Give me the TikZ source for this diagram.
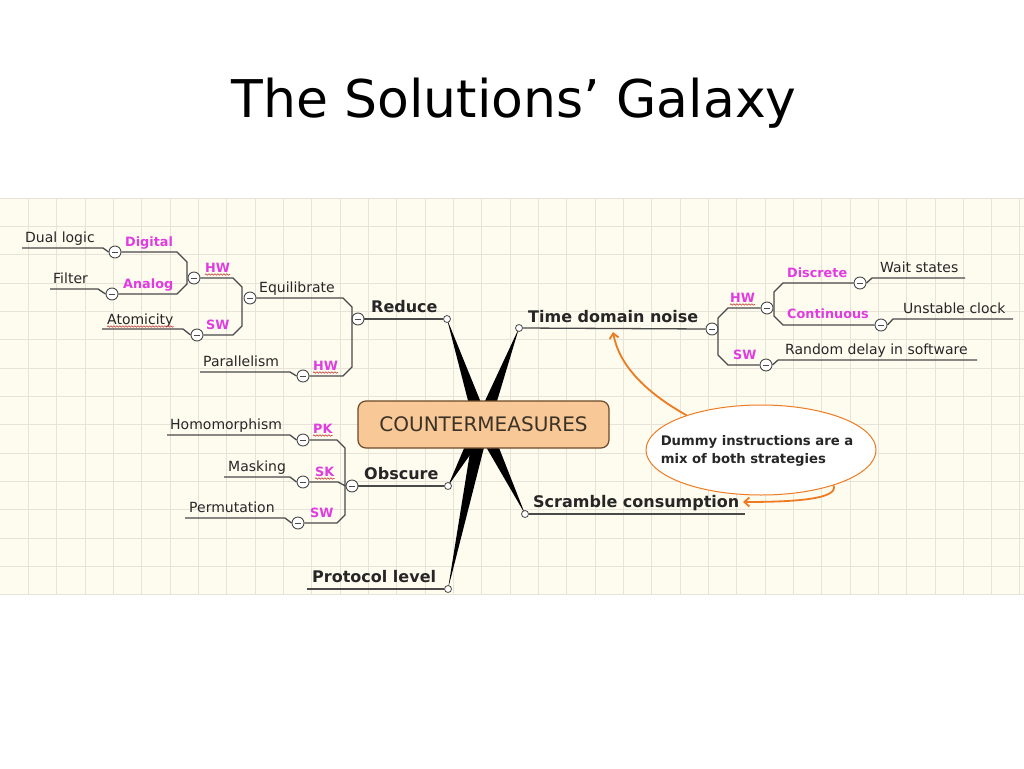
\documentclass[tikz,border=0pt]{standalone}
\usepackage{fontspec}
\setmainfont{DejaVu Sans}
\usetikzlibrary{calc,shapes.geometric,arrows.meta,decorations.pathmorphing}
\definecolor{linec}{HTML}{4A4A4A}
\definecolor{magc}{HTML}{E03CE0}
\definecolor{txtc}{HTML}{262626}
\definecolor{orc}{HTML}{EE7B22}
\definecolor{wavc}{HTML}{C8504A}
\definecolor{gridc}{HTML}{E8E3D8}
\definecolor{paper}{HTML}{FEFBEF}
\definecolor{boxfill}{HTML}{F8C896}
\definecolor{boxdraw}{HTML}{6B4A2A}
\definecolor{boxtxt}{HTML}{3B3328}
\tikzset{
  lbl/.style={inner sep=0, anchor=base west, text=txtc, font=\fontsize{14}{16}\selectfont},
  big/.style={lbl, font=\fontsize{16}{18}\selectfont\bfseries},
  mag/.style={lbl, text=magc, font=\fontsize{12.8}{15}\selectfont\bfseries},
  btn/.style={circle, draw=linec, fill=white, inner sep=0, minimum size=12pt, line width=0.9pt,
    path picture={\draw[line width=0.9pt,linec] ([xshift=-3.2pt]path picture bounding box.center) -- ([xshift=3.2pt]path picture bounding box.center);}},
  tipc/.style={circle, draw=linec, fill=white, inner sep=0, minimum size=7pt, line width=0.8pt},
  conn/.style={draw=linec, line width=1.3pt, line join=round},
  wavy/.style={draw=wavc, line width=0.7pt, decorate, decoration={snake, segment length=3pt, amplitude=0.7pt}},
  spike/.style={fill=black},
  callarrow/.style={draw=orc, line width=1.8pt, -{Straight Barb[length=5pt,width=9pt]}},
  gridline/.style={draw=gridc, line width=0.8pt}
}
\begin{document}
\begin{tikzpicture}[x=1pt,y=-1pt]
\useasboundingbox (0,0) rectangle (1024,768);
\fill[white] (0,0) rectangle (1024,768);
% paper
\fill[paper] (0,198) rectangle (1024,595);
\foreach \i in {1,...,36} \draw[gridline] (\i*28.33,198) -- (\i*28.33,595);
\foreach \j in {0,...,14} \draw[gridline] (0,198+\j*28.33) -- (1024,198+\j*28.33);
% title
\node[font=\fontsize{52}{60}\selectfont, text=black, anchor=base, inner sep=0] (title) at (514,117) {The Solutions’ Galaxy};
% spike ends
\coordinate (C) at (482,425);
\coordinate (cR) at (447,319);
\coordinate (cT) at (519,328);
\coordinate (cO) at (448,486);
\coordinate (cP) at (448,589);
\coordinate (cS) at (525,514);
\foreach \t in {cR,cT,cO,cP,cS}
  \fill[spike] ($(C)!7.5pt!90:(\t)$) -- (\t) -- ($(C)!7.5pt!-90:(\t)$) -- cycle;
% central box
\node[draw=boxdraw, fill=boxfill, rounded corners=8pt, line width=1.2pt, minimum width=251pt, minimum height=47pt, text=boxtxt, font=\fontsize{20}{24}\selectfont] (cm) at (483.5,424.5) {COUNTERMEASURES};
% tips
\node[tipc] (RT) at (cR) {};
\node[tipc] (TT) at (cT) {};
\node[tipc] (OT) at (cO) {};
\node[tipc] (PT) at (cP) {};
\node[tipc] (SC) at (cS) {};
% buttons
\node[btn] (R0) at (358,319) {};
\node[btn] (E0) at (250,298) {};
\node[btn] (H1) at (194,278) {};
\node[btn] (D0) at (115,252) {};
\node[btn] (A0) at (112,294) {};
\node[btn] (S1) at (197,335) {};
\node[btn] (H2) at (303,376) {};
\node[btn] (T0) at (712,329) {};
\node[btn] (H3) at (767,308) {};
\node[btn] (DC) at (860,283) {};
\node[btn] (CN) at (881,325) {};
\node[btn] (S3) at (766,365) {};
\node[btn] (O0) at (352,486) {};
\node[btn] (P0) at (303,440) {};
\node[btn] (K0) at (303,482) {};
\node[btn] (W0) at (298,523) {};
% connectors left
\draw[conn] (R0.east) -- (RT.west);
\draw[conn] (E0.east) -- (343,298) -- (352,307) -- (352,367) -- (343,376) -- (H2.east);
\draw[conn] (H1.east) -- (233,278) -- (242,287) -- (242,326) -- (233,335) -- (S1.east);
\draw[conn] (D0.east) -- (177,252) -- (187,262) -- (187,284) -- (177,294) -- (A0.east);
\draw[conn] (22,248) -- (103,248) -- (D0.west);
\draw[conn] (50,289) -- (98,289) -- (A0.west);
\draw[conn] (102,329) -- (183,329) -- (S1.west);
\draw[conn] (200,372) -- (290,372) -- (H2.west);
% connectors right
\draw[conn] (TT.east) -- (T0.west);
\draw[conn] (H3.west) -- (728,308) -- (718,318) -- (718,355) -- (728,365) -- (S3.west);
\draw[conn] (DC.west) -- (783,283) -- (774,292) -- (774,316) -- (783,325) -- (CN.west);
\draw[conn] (DC.east) -- (872,278) -- (965,278);
\draw[conn] (CN.east) -- (893,319) -- (1013,319);
\draw[conn] (S3.east) -- (778,360) -- (977,360);
% connectors lower
\draw[conn] (O0.east) -- (OT.west);
\draw[conn] (P0.east) -- (337,440) -- (345,448) -- (345,515) -- (337,523) -- (W0.east);
\draw[conn] (K0.east) -- (338,482) -- (O0.west);
\draw[conn] (167,435) -- (290,435) -- (P0.west);
\draw[conn] (224,477) -- (290,477) -- (K0.west);
\draw[conn] (185,518) -- (285,518) -- (W0.west);
\draw[conn] (307,589) -- (PT.west);
\draw[conn] (SC.east) -- (745,514);
% texts left
\node[big] (tR) at (371,312) {Reduce};
\node[lbl] (tE) at (259,292) {Equilibrate};
\node[mag] (tH1) at (205,272) {HW};
\node[mag] (tD) at (125,246) {Digital};
\node[lbl] (tDL) at (25,242) {Dual logic};
\node[mag] (tA) at (123,288) {Analog};
\node[lbl] (tF) at (53,283) {Filter};
\node[mag] (tS1) at (206,329) {SW};
\node[lbl] (tAt) at (107,324) {Atomicity};
\node[mag] (tH2) at (313,370) {HW};
\node[lbl] (tP) at (203,366) {Parallelism};
% texts right
\node[big] (tT) at (528,322) {Time domain noise};
\node[mag] (tH3) at (730,302) {HW};
\node[mag] (tDC) at (787,277) {Discrete};
\node[lbl] (tW) at (880,272) {Wait states};
\node[mag] (tCN) at (787,318) {Continuous};
\node[lbl] (tU) at (903,313) {Unstable clock};
\node[mag] (tS3) at (733,359) {SW};
\node[lbl] (tRD) at (785,354) {Random delay in software};
% texts lower
\node[big] (tO) at (364,479) {Obscure};
\node[mag] (tPK) at (313,433) {PK};
\node[lbl] (tHo) at (170,429) {Homomorphism};
\node[mag] (tSK) at (315,476) {SK};
\node[lbl] (tM) at (228,471) {Masking};
\node[mag] (tS4) at (310,517) {SW};
\node[lbl] (tPe) at (189,512) {Permutation};
\node[big] (tPL) at (312,582) {Protocol level};
\node[big] (tSC) at (533,507) {Scramble consumption};
% wavy underlines
\foreach \n in {tH1,tAt,tH2,tH3,tPK,tSK}
  \draw[wavy] ([yshift=-2.5pt]\n.base west) -- ([yshift=-2.5pt]\n.base east);
% callout
\node[ellipse, draw=orc, fill=white, line width=1pt, minimum width=230pt, minimum height=90pt, inner sep=0] (dm) at (761,450) {};
\node[inner sep=0, align=left, text=txtc, font=\fontsize{13.2}{18}\selectfont\bfseries] (dmt) at (757,451) {Dummy instructions are a\\mix of both strategies};
\coordinate (a1) at (613,332);
\coordinate (a2) at (743,502);
\draw[callarrow] (dm.155) .. controls (645,392) and (619,365) .. (a1);
\draw[callarrow] (dm.-26) .. controls (839,499) and (795,502) .. (a2);
\end{tikzpicture}
\end{document}
